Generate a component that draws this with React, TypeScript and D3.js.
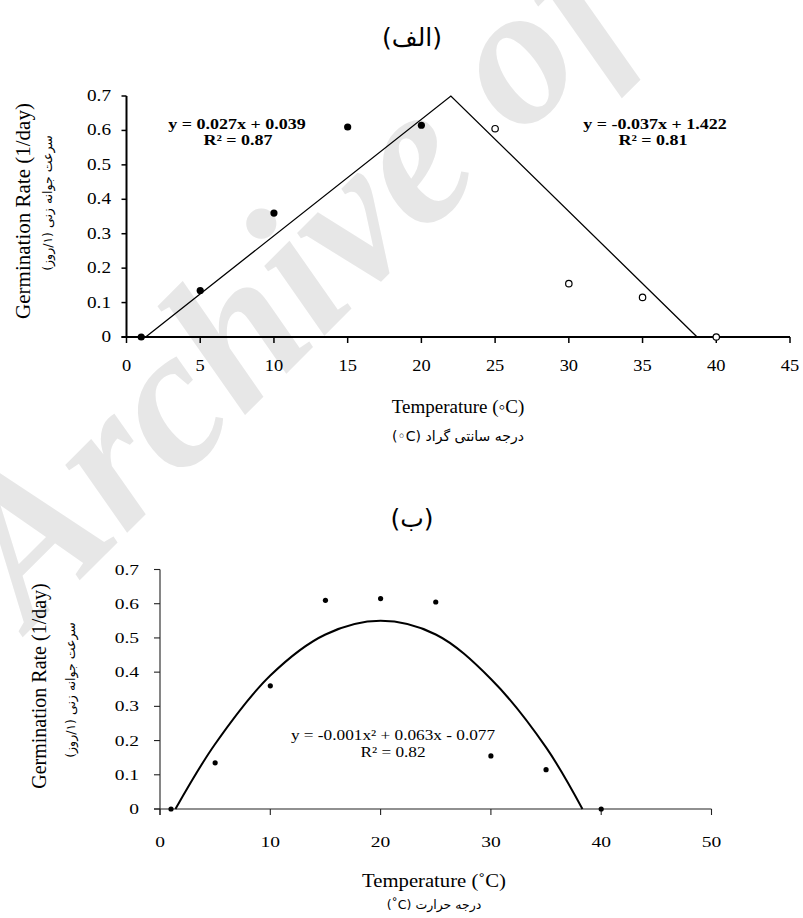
import React from "react";
import * as d3 from "d3";

// ---------- data ----------
const lowTemps = [1, 5, 10, 15, 20];
const lowRates = [0, 0.135, 0.36, 0.61, 0.615];
const highTemps = [25, 30, 35, 40];
const highRates = [0.605, 0.155, 0.115, 0];

// segmented (broken-line) model as drawn: base, optimum, ceiling
const segTemps = [1.3, 22, 38.7];
const segRates = [0, 0.7, 0];

// quadratic trend as drawn
const curveTemps = [1.4, 5, 10, 15, 20, 25, 30, 35, 38.3];
const curveRates = [0, 0.19, 0.39, 0.51, 0.55, 0.51, 0.38, 0.18, 0];

const yTicks = [0, 0.1, 0.2, 0.3, 0.4, 0.5, 0.6, 0.7];
const xTicksTop = [0, 5, 10, 15, 20, 25, 30, 35, 40, 45];
const xTicksBottom = [0, 10, 20, 30, 40, 50];

const titleTop = "(الف)";
const titleBottom = "(ب)";
const yTitleEn = "Germination Rate (1/day)";
const yTitleFa = "سرعت جوانه زنی (۱/روز)";
const xTitleTopEn = "Temperature (◦C)";
const xTitleTopFa = "(◦C)  درجه سانتی گراد";
const xTitleBotEn = "Temperature (˚C)";
const xTitleBotFa = "(˚C) درجه حرارت";
const eqLeft = ["y = 0.027x + 0.039", "R² = 0.87"];
const eqRight = ["y = -0.037x + 1.422", "R² = 0.81"];
const eqQuad = ["y = -0.001x² + 0.063x - 0.077", "R² = 0.82"];
const watermark = "Archive of SID";

const SERIF = "'Liberation Serif', 'Times New Roman', serif";
const FA = "'DejaVu Sans', sans-serif";

function T({ x, y, s = 1, anchor = "middle", size = 16, weight = "normal", family = SERIF, fill = "#000", rot = 0, dir, italic, children }: any) {
  return (
    <g transform={`translate(${x},${y}) rotate(${rot}) scale(${s},1)`}>
      <text textAnchor={anchor} fontSize={size} fontWeight={weight} fontFamily={family} fill={fill} fontStyle={italic ? "italic" : "normal"} style={dir ? ({ direction: dir } as any) : undefined}>
        {children}
      </text>
    </g>
  );
}

export default function App() {
  // top chart scales
  const xA = d3.scaleLinear().domain([0, 45]).range([126.5, 790]);
  const yA = d3.scaleLinear().domain([0, 0.7]).range([337, 96]);
  // bottom chart scales
  const xB = d3.scaleLinear().domain([0, 50]).range([160, 711.5]);
  const yB = d3.scaleLinear().domain([0, 0.7]).range([809, 569.5]);

  const segLine = d3.line<number>().x((d, i) => xA(segTemps[i])).y((d, i) => yA(segRates[i]));
  const quadLine = d3
    .line<number>()
    .x((d, i) => xB(curveTemps[i]))
    .y((d, i) => yB(curveRates[i]))
    .curve(d3.curveCatmullRom.alpha(0.5));

  const allTemps = lowTemps.concat(highTemps);
  const allRates = lowRates.concat(highRates);
  const fmt = d3.format(".1f");

  return (
    <svg width={803} height={918} style={{ position: "absolute", left: 0, top: 0, background: "#fff" }}>
      <rect width={803} height={918} fill="#fff" />
      {/* watermark */}
      <T x={30} y={630} rot={-45} size={200} weight="bold" anchor="start" fill="#e7e7e7" italic>
        {watermark}
      </T>

      {/* ================= TOP CHART ================= */}
      <T x={412} y={46} size={25} family={FA} dir="rtl">{titleTop}</T>

      {/* axes */}
      <line x1={xA(0)} x2={xA(0)} y1={yA(0)} y2={yA(0.7)} stroke="#000" strokeWidth={2} />
      <line x1={xA(0) - 5} x2={xA(45)} y1={yA(0)} y2={yA(0)} stroke="#000" strokeWidth={2} />
      {yTicks.map((t) => (
        <g key={"ya" + t}>
          <line x1={xA(0) - 5} x2={xA(0)} y1={yA(t)} y2={yA(t)} stroke="#000" strokeWidth={1.5} />
          <T x={111} y={yA(t) + 5} anchor="end" size={16} s={1.2}>{t === 0 ? "0" : fmt(t)}</T>
        </g>
      ))}
      {xTicksTop.map((t) => (
        <g key={"xa" + t}>
          <line x1={xA(t)} x2={xA(t)} y1={yA(0)} y2={yA(0) + 6} stroke="#000" strokeWidth={1.5} />
          <T x={xA(t)} y={371} size={16} s={1.15}>{String(t)}</T>
        </g>
      ))}

      {/* model lines */}
      <path d={segLine(segTemps) || ""} fill="none" stroke="#000" strokeWidth={1.3} />

      {/* points */}
      {lowTemps.map((t, i) => (
        <circle key={"lp" + i} cx={xA(t)} cy={yA(lowRates[i])} r={3.6} fill="#000" />
      ))}
      {highTemps.map((t, i) => (
        <circle key={"hp" + i} cx={xA(t)} cy={yA(highRates[i])} r={3.2} fill="#fff" stroke="#000" strokeWidth={1.2} />
      ))}

      {/* equations */}
      <T x={237} y={129} size={15} weight="bold" s={1.2}>{eqLeft[0]}</T>
      <T x={238} y={145} size={15} weight="bold" s={1.2}>{eqLeft[1]}</T>
      <T x={655} y={129} size={15} weight="bold" s={1.2}>{eqRight[0]}</T>
      <T x={653} y={145} size={15} weight="bold" s={1.2}>{eqRight[1]}</T>

      {/* axis titles */}
      <T x={458} y={413} size={19}>{xTitleTopEn}</T>
      <T x={458} y={441} size={14} family={FA}>{xTitleTopFa}</T>
      <g transform="translate(30,211) rotate(-90)">
        <text textAnchor="middle" fontSize={21} fontFamily={SERIF}>{yTitleEn}</text>
      </g>
      <g transform="translate(52,203) rotate(-90)">
        <text textAnchor="middle" fontSize={12.5} fontFamily={FA} style={{ direction: "rtl" } as any}>{yTitleFa}</text>
      </g>

      {/* ================= BOTTOM CHART ================= */}
      <T x={412} y={527} size={25} family={FA} dir="rtl">{titleBottom}</T>

      <line x1={xB(0)} x2={xB(0)} y1={yB(0) + 6} y2={yB(0.7)} stroke="#222" strokeWidth={1.1} />
      <line x1={xB(0) - 6} x2={xB(50)} y1={yB(0)} y2={yB(0)} stroke="#222" strokeWidth={1.1} />
      {yTicks.map((t) => (
        <g key={"yb" + t}>
          <line x1={xB(0) - 6} x2={xB(0)} y1={yB(t)} y2={yB(t)} stroke="#222" strokeWidth={1.1} />
          <T x={139} y={yB(t) + 5} anchor="end" size={15} s={1.3}>{t === 0 ? "0" : fmt(t)}</T>
        </g>
      ))}
      {xTicksBottom.map((t) => (
        <g key={"xb" + t}>
          <line x1={xB(t)} x2={xB(t)} y1={yB(0)} y2={yB(0) + 6} stroke="#222" strokeWidth={1.1} />
          <T x={xB(t)} y={847} size={15} s={1.3}>{String(t)}</T>
        </g>
      ))}

      <path d={quadLine(curveTemps) || ""} fill="none" stroke="#000" strokeWidth={2} />
      {allTemps.map((t, i) => (
        <circle key={"bp" + i} cx={xB(t)} cy={yB(allRates[i])} r={2.6} fill="#000" />
      ))}

      <T x={393} y={740} size={15} s={1.15}>{eqQuad[0]}</T>
      <T x={393} y={757} size={15} s={1.15}>{eqQuad[1]}</T>

      <T x={434} y={887} size={18} s={1.15}>{xTitleBotEn}</T>
      <T x={434} y={909} size={12.5} family={FA}>{xTitleBotFa}</T>
      <g transform="translate(46,686) rotate(-90)">
        <text textAnchor="middle" fontSize={20} fontFamily={SERIF}>{yTitleEn}</text>
      </g>
      <g transform="translate(75,690) rotate(-90)">
        <text textAnchor="middle" fontSize={12.5} fontFamily={FA} style={{ direction: "rtl" } as any}>{yTitleFa}</text>
      </g>
    </svg>
  );
}
